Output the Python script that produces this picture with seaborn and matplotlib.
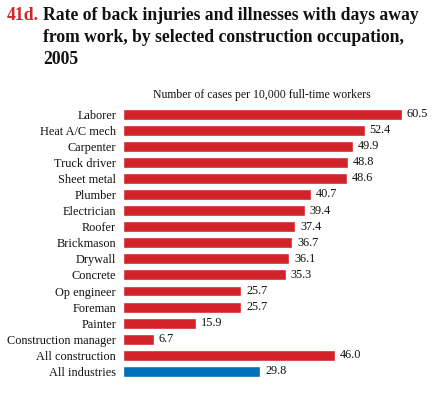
import matplotlib
matplotlib.use("Agg")
import matplotlib.pyplot as plt
import seaborn as sns
import pandas as pd

occupations = ["Laborer", "Heat A/C mech", "Carpenter", "Truck driver", "Sheet metal",
               "Plumber", "Electrician", "Roofer", "Brickmason", "Drywall", "Concrete",
               "Op engineer", "Foreman", "Painter", "Construction manager",
               "All construction", "All industries"]
rates = [60.5, 52.4, 49.9, 48.8, 48.6, 40.7, 39.4, 37.4, 36.7, 36.1, 35.3,
         25.7, 25.7, 15.9, 6.7, 46.0, 29.8]
groups = ["construction"] * 16 + ["all"]

RED = "#D2232A"
BLUE = "#0070B8"

sns.set_theme(style="white")
plt.rcParams['font.family'] = ['Liberation Serif', 'DejaVu Serif']

df = pd.DataFrame({"occupation": occupations, "rate": rates, "group": groups})

W, H = 436, 393
fig = plt.figure(figsize=(W / 100, H / 100), dpi=100)
ax_left = 123 / W
ax_w = 66 * 4.61 / W
top_px, bot_px = 106, 379.5
ax = fig.add_axes([ax_left, 1 - bot_px / H, ax_w, (bot_px - top_px) / H])

sns.barplot(data=df, x="rate", y="occupation", hue="group",
            palette={"construction": RED, "all": BLUE}, dodge=False,
            width=0.68, legend=False, ax=ax, saturation=1)
ax.set_xlim(0, 66)
ax.set_ylim(16.5, -0.5)
for s in ax.spines.values():
    s.set_visible(False)
ax.set_xticks([])
ax.set_xlabel("")
ax.set_ylabel("")
ax.tick_params(axis="y", length=0, pad=5, labelsize=8.8)
for lab in ax.get_yticklabels():
    lab.set_color("#111111")

for i, v in enumerate(rates):
    ax.text(v + 1.1, i, f"{v:.1f}", va="center", ha="left", fontsize=8.8, color="#111111")

TS = 12.7
fig.text(7 / W, 1 - 15 / H, "41d.", color=RED, fontsize=TS, fontweight="bold",
         va="center", ha="left")
fig.text(43 / W, 1 - 15 / H, "Rate of back injuries and illnesses with days away",
         fontsize=TS, fontweight="bold", va="center", ha="left", color="#111111")
fig.text(43 / W, 1 - 37 / H, "from work, by selected construction occupation,",
         fontsize=TS, fontweight="bold", va="center", ha="left", color="#111111")
fig.text(43 / W, 1 - 59 / H, "2005",
         fontsize=TS, fontweight="bold", va="center", ha="left", color="#111111")
fig.text(262 / W, 1 - 95 / H, "Number of cases per 10,000 full-time workers",
         fontsize=8.5, va="center", ha="center", color="#111111")

fig.savefig("out.png", dpi=100)
